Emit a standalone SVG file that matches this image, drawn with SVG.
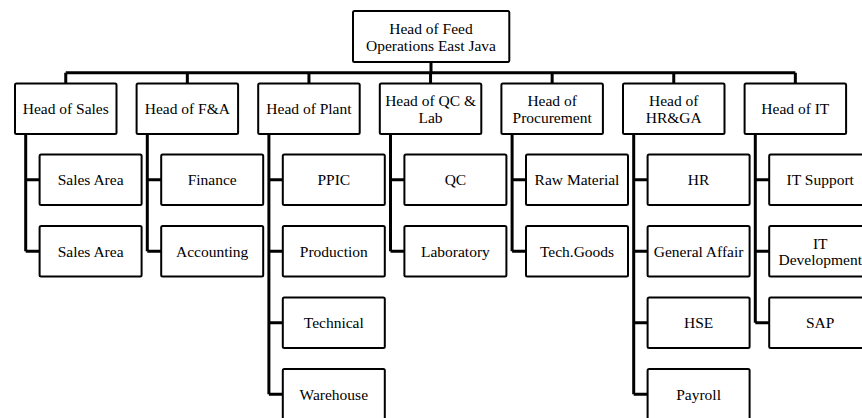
<svg xmlns="http://www.w3.org/2000/svg" width="862" height="418" viewBox="0 0 862 418">
<style>
.box{fill:#fff;stroke:#000;stroke-width:2}
.ln{fill:none;stroke:#000;stroke-width:3}
text{font-family:"Liberation Serif","Times New Roman",serif;font-size:15.5px;fill:#000;text-anchor:middle}
</style>
<rect width="862" height="418" fill="#fff"/>
<g id="connectors" class="ln">
<path d="M431,63 V72.7 M65.75,72.7 H795.35"/>
<path d="M65.75,72.7 V83 M187.35,72.7 V83 M308.95,72.7 V83 M430.55,72.7 V83 M552.15,72.7 V83 M673.75,72.7 V83 M795.35,72.7 V83"/>
<path d="M25.7,135 V179.75 H39.6 M25.7,251.25 H39.6 M25.7,135 V251.25"/>
<path d="M147.3,135 V251.25 M147.3,179.75 H161.2 M147.3,251.25 H161.2"/>
<path d="M268.9,135 V394.25 M268.9,179.75 H282.8 M268.9,251.25 H282.8 M268.9,322.75 H282.8 M268.9,394.25 H282.8"/>
<path d="M390.5,135 V251.25 M390.5,179.75 H404.4 M390.5,251.25 H404.4"/>
<path d="M512.1,135 V251.25 M512.1,179.75 H526 M512.1,251.25 H526"/>
<path d="M633.7,135 V394.25 M633.7,179.75 H647.6 M633.7,251.25 H647.6 M633.7,322.75 H647.6 M633.7,394.25 H647.6"/>
<path d="M755.3,135 V322.75 M755.3,179.75 H769.2 M755.3,251.25 H769.2 M755.3,322.75 H769.2"/>
</g>
<g id="head-feed-ops"><rect class="box" x="353" y="11" width="156.3" height="51" rx="1.5"/><text x="431" y="33.5">Head of Feed</text><text x="431" y="50.5">Operations East Java</text></g>
<g id="head-sales"><rect class="box" x="15" y="83.5" width="101.5" height="50.5" rx="1.5"/><text x="65.75" y="114.3">Head of Sales</text></g>
<g id="head-fa"><rect class="box" x="136.6" y="83.5" width="101.5" height="50.5" rx="1.5"/><text x="187.35" y="114.3">Head of F&amp;A</text></g>
<g id="head-plant"><rect class="box" x="258.2" y="83.5" width="101.5" height="50.5" rx="1.5"/><text x="308.95" y="114.3">Head of Plant</text></g>
<g id="head-qc"><rect class="box" x="379.8" y="83.5" width="101.5" height="50.5" rx="1.5"/><text x="430.55" y="106">Head of QC &amp;</text><text x="430.55" y="123">Lab</text></g>
<g id="head-procurement"><rect class="box" x="501.4" y="83.5" width="101.5" height="50.5" rx="1.5"/><text x="552.15" y="106">Head of</text><text x="552.15" y="123">Procurement</text></g>
<g id="head-hrga"><rect class="box" x="623" y="83.5" width="101.5" height="50.5" rx="1.5"/><text x="673.75" y="106">Head of</text><text x="673.75" y="123">HR&amp;GA</text></g>
<g id="head-it"><rect class="box" x="744.6" y="83.5" width="101.5" height="50.5" rx="1.5"/><text x="795.35" y="114.3">Head of IT</text></g>
<g id="sales-area-1"><rect class="box" x="39.6" y="154.5" width="102" height="50.5" rx="1.5"/><text x="90.6" y="185">Sales Area</text></g>
<g id="sales-area-2"><rect class="box" x="39.6" y="226" width="102" height="50.5" rx="1.5"/><text x="90.6" y="256.5">Sales Area</text></g>
<g id="finance"><rect class="box" x="161.2" y="154.5" width="102" height="50.5" rx="1.5"/><text x="212.2" y="185">Finance</text></g>
<g id="accounting"><rect class="box" x="161.2" y="226" width="102" height="50.5" rx="1.5"/><text x="212.2" y="256.5">Accounting</text></g>
<g id="ppic"><rect class="box" x="282.8" y="154.5" width="102" height="50.5" rx="1.5"/><text x="333.8" y="185">PPIC</text></g>
<g id="production"><rect class="box" x="282.8" y="226" width="102" height="50.5" rx="1.5"/><text x="333.8" y="256.5">Production</text></g>
<g id="technical"><rect class="box" x="282.8" y="297.5" width="102" height="50.5" rx="1.5"/><text x="333.8" y="328">Technical</text></g>
<g id="warehouse"><rect class="box" x="282.8" y="369" width="102" height="50.5" rx="1.5"/><text x="333.8" y="399.5">Warehouse</text></g>
<g id="qc"><rect class="box" x="404.4" y="154.5" width="102" height="50.5" rx="1.5"/><text x="455.4" y="185">QC</text></g>
<g id="laboratory"><rect class="box" x="404.4" y="226" width="102" height="50.5" rx="1.5"/><text x="455.4" y="256.5">Laboratory</text></g>
<g id="raw-material"><rect class="box" x="526" y="154.5" width="102" height="50.5" rx="1.5"/><text x="577" y="185">Raw Material</text></g>
<g id="tech-goods"><rect class="box" x="526" y="226" width="102" height="50.5" rx="1.5"/><text x="577" y="256.5">Tech.Goods</text></g>
<g id="hr"><rect class="box" x="647.6" y="154.5" width="102" height="50.5" rx="1.5"/><text x="698.6" y="185">HR</text></g>
<g id="general-affair"><rect class="box" x="647.6" y="226" width="102" height="50.5" rx="1.5"/><text x="698.6" y="256.5">General Affair</text></g>
<g id="hse"><rect class="box" x="647.6" y="297.5" width="102" height="50.5" rx="1.5"/><text x="698.6" y="328">HSE</text></g>
<g id="payroll"><rect class="box" x="647.6" y="369" width="102" height="50.5" rx="1.5"/><text x="698.6" y="399.5">Payroll</text></g>
<g id="it-support"><rect class="box" x="769.2" y="154.5" width="102" height="50.5" rx="1.5"/><text x="820.2" y="185">IT Support</text></g>
<g id="it-development"><rect class="box" x="769.2" y="226" width="102" height="50.5" rx="1.5"/><text x="820.2" y="248.5">IT</text><text x="820.2" y="265">Development</text></g>
<g id="sap"><rect class="box" x="769.2" y="297.5" width="102" height="50.5" rx="1.5"/><text x="820.2" y="328">SAP</text></g>
</svg>
